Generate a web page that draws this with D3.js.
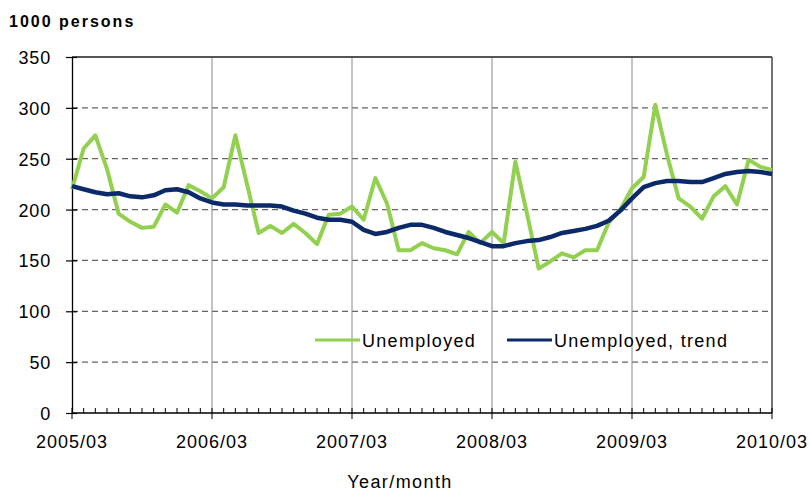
<!DOCTYPE html>
<html lang="en">
<head>
    <meta charset="utf-8">
    <title>Unemployed, 1000 persons</title>
    <script src="https://cdn.jsdelivr.net/npm/d3@7"></script>
    <style>
        body { margin: 0; background: #fff; }
        text { font-family: "Liberation Sans", Arial, sans-serif; fill: #000; }
        .grid-h line { stroke: #666; stroke-dasharray: 6,4; stroke-width: 1.3; }
        .grid-v line { stroke: #888; stroke-width: 1; }
    </style>
</head>
<body>
    <script>
        // Data: 2005/03 .. 2010/03, monthly
        var unemployed = [220, 260, 273, 240, 196, 188, 182, 183, 205, 197, 224, 218,
            211, 222, 273, 225, 177, 184, 177, 186, 177, 166, 195, 196,
            203, 190, 231, 206, 160, 160, 167, 162, 160, 156, 178, 167,
            178, 167, 247, 196, 142, 149, 157, 153, 160, 160, 187, 200,
            221, 232, 303, 254, 211, 203, 191, 213, 223, 205, 249, 242, 239];
        var trend = [223, 220, 217, 215, 216, 213, 212, 214, 219, 220, 217, 211,
            207, 205, 205, 204, 204, 204, 203, 199, 196, 192, 190, 190,
            188, 180, 176, 178, 182, 185, 185, 182, 178, 175, 172, 168,
            164, 164, 167, 169, 170, 173, 177, 179, 181, 184, 189, 199,
            211, 222, 226, 228, 228, 227, 227, 231, 235, 237, 238, 237, 235];
        var yTicks = [0, 50, 100, 150, 200, 250, 300, 350];
        var xLabels = ["2005/03", "2006/03", "2007/03", "2008/03", "2009/03", "2010/03"];

        var w = 810, h = 492;
        var mLeft = 72, mRight = 772, mTop = 57, mBottom = 413;

        var svg = d3.select("body").append("svg")
            .attr("width", w)
            .attr("height", h);

        var x = d3.scaleLinear()
            .domain([0, unemployed.length - 1])
            .range([mLeft, mRight]);

        var y = d3.scaleLinear()
            .domain([0, 350])
            .range([mBottom, mTop]);

        // horizontal dashed grid
        svg.append("g").attr("class", "grid-h")
            .selectAll("line")
            .data(yTicks.filter(function (d) { return d > 0 && d < 350; }))
            .enter().append("line")
            .attr("x1", mLeft).attr("x2", mRight)
            .attr("y1", function (d) { return y(d); })
            .attr("y2", function (d) { return y(d); });

        // vertical year grid
        svg.append("g").attr("class", "grid-v")
            .selectAll("line")
            .data(d3.range(1, xLabels.length - 1))
            .enter().append("line")
            .attr("x1", function (d) { return x(d * 12); })
            .attr("x2", function (d) { return x(d * 12); })
            .attr("y1", mTop).attr("y2", mBottom);

        // plot border top/right
        svg.append("line").attr("x1", mLeft).attr("x2", mRight).attr("y1", mTop).attr("y2", mTop)
            .attr("stroke", "#555").attr("stroke-width", 2);
        svg.append("line").attr("x1", mRight).attr("x2", mRight).attr("y1", mTop).attr("y2", mBottom)
            .attr("stroke", "#444").attr("stroke-width", 1.5);

        // y axis
        var yAxis = d3.axisLeft(y).tickValues(yTicks).tickSize(0).tickPadding(21);
        var gy = svg.append("g").attr("transform", "translate(" + mLeft + ",0)").call(yAxis);
        gy.select(".domain").attr("stroke", "#000").attr("stroke-width", 1.3);
        gy.selectAll(".tick text")
            .attr("font-size", "18px")
            .attr("fill", "#000")
            .attr("dy", "0.36em")
            .style("letter-spacing", "0.8px")
            .style("font-family", "'Liberation Sans', Arial, sans-serif");
        gy.selectAll(".tick").append("line")
            .attr("x1", -6).attr("x2", 5).attr("stroke", "#000").attr("stroke-width", 1.2);

        // x axis: monthly minor ticks, yearly labels
        var gx = svg.append("g").attr("transform", "translate(0," + mBottom + ")");
        gx.append("line").attr("x1", mLeft).attr("x2", mRight).attr("stroke", "#000").attr("stroke-width", 1.3);
        gx.selectAll("line.minor")
            .data(d3.range(unemployed.length))
            .enter().append("line").attr("class", "minor")
            .attr("x1", function (d) { return x(d); })
            .attr("x2", function (d) { return x(d); })
            .attr("y1", function (d) { return d % 12 === 0 ? 6 : 0; })
            .attr("y2", -5)
            .attr("stroke", "#000").attr("stroke-width", 1);
        gx.selectAll("text")
            .data(xLabels)
            .enter().append("text")
            .attr("x", function (d, i) { return x(i * 12); })
            .attr("y", 35)
            .attr("text-anchor", "middle")
            .attr("font-size", "18px")
            .style("letter-spacing", "1px")
            .text(function (d) { return d; });

        svg.append("text")
            .attr("x", 400).attr("y", 488)
            .attr("text-anchor", "middle")
            .attr("font-size", "18px")
            .style("letter-spacing", "1.4px")
            .text("Year/month");

        svg.append("text")
            .attr("x", 9).attr("y", 27)
            .attr("font-size", "16px")
            .attr("font-weight", "bold")
            .style("letter-spacing", "2px")
            .text("1000 persons");

        // lines
        var line = d3.line()
            .x(function (d, i) { return x(i); })
            .y(function (d) { return y(d); });

        svg.append("path").datum(unemployed)
            .attr("d", line)
            .attr("fill", "none")
            .attr("stroke", "#92d050")
            .attr("stroke-width", 4)
            .attr("stroke-linejoin", "round");

        svg.append("path").datum(trend)
            .attr("d", line)
            .attr("fill", "none")
            .attr("stroke", "#0c2a6a")
            .attr("stroke-width", 4.5)
            .attr("stroke-linejoin", "round");

        // legend
        var legend = [
            { name: "Unemployed", color: "#92d050", x: 315 },
            { name: "Unemployed, trend", color: "#0c2a6a", x: 507 }
        ];
        var lg = svg.append("g").selectAll("g").data(legend).enter().append("g")
            .attr("transform", function (d) { return "translate(" + d.x + ",340)"; });
        lg.append("line").attr("x1", 0).attr("x2", 45)
            .attr("stroke", function (d) { return d.color; })
            .attr("stroke-width", 3);
        lg.append("text").attr("x", 47).attr("y", 7)
            .attr("font-size", "18px")
            .style("letter-spacing", "1.3px")
            .text(function (d) { return d.name; });
    </script>
</body>
</html>
